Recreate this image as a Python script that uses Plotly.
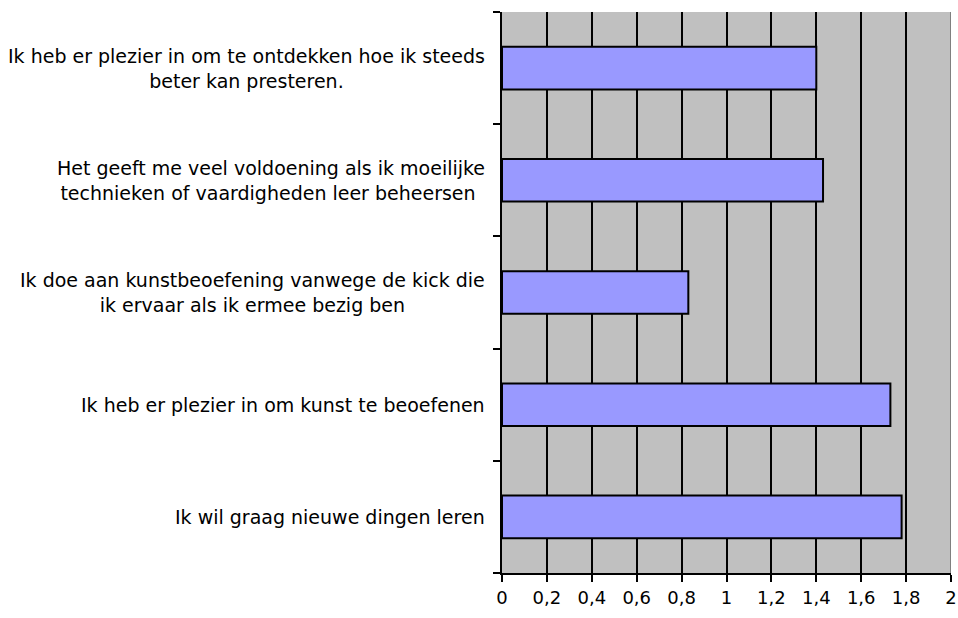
import plotly.graph_objects as go

# statements, top to bottom as in the chart
categories = [
    "Ik heb er plezier in om te ontdekken hoe ik steeds<br>beter kan presteren.",
    "Het geeft me veel voldoening als ik moeilijke<br>technieken of vaardigheden leer beheersen ",
    "Ik doe aan kunstbeoefening vanwege de kick die<br>ik ervaar als ik ermee bezig ben",
    "Ik heb er plezier in om kunst te beoefenen",
    "Ik wil graag nieuwe dingen leren",
]
values = [1.40, 1.43, 0.83, 1.73, 1.78]

tick_vals = [0, 0.2, 0.4, 0.6, 0.8, 1.0, 1.2, 1.4, 1.6, 1.8, 2.0]
tick_text = ["0", "0,2", "0,4", "0,6", "0,8", "1", "1,2", "1,4", "1,6", "1,8", "2"]

FONT = "Tahoma, DejaVu Sans, sans-serif"

fig = go.Figure(go.Bar(
    x=values,
    y=categories,
    orientation="h",
    width=0.38,
    marker=dict(color="#9999FF", line=dict(color="black", width=2)),
))

# category labels as centred multi-line text, right-aligned to the axis
for cat in categories:
    fig.add_annotation(
        x=0, xref="paper", y=cat, yref="y",
        text=cat, showarrow=False,
        xanchor="right", align="center", xshift=-15,
        font=dict(family=FONT, size=19, color="black"),
    )

# grey right border of the plot area
fig.add_shape(type="line", xref="x", yref="paper", x0=2, x1=2, y0=0, y1=1,
              line=dict(color="#808080", width=2))

fig.update_layout(
    width=958, height=618,
    margin=dict(l=502, r=7, t=12, b=45),
    paper_bgcolor="white",
    plot_bgcolor="#C0C0C0",
    showlegend=False,
    font=dict(family=FONT, size=18, color="black"),
    xaxis=dict(
        range=[0, 2], tickvals=tick_vals, ticktext=tick_text,
        showgrid=True, gridcolor="black", gridwidth=2,
        showline=True, linecolor="black", linewidth=2,
        ticks="outside", ticklen=7, tickwidth=2, tickcolor="black",
        zeroline=False, fixedrange=True, automargin=False,
    ),
    yaxis=dict(
        type="category", categoryorder="array", categoryarray=categories[::-1],
        showticklabels=False, showgrid=False,
        showline=True, linecolor="black", linewidth=2,
        ticks="outside", tickson="boundaries", ticklen=7, tickwidth=2,
        tickcolor="black", fixedrange=True, automargin=False,
    ),
)

# page body has a default 8px margin; drop it so the figure sits at the corner
fig.write_html(
    "out.html",
    config={"displayModeBar": False},
    post_script="document.body.style.margin='0';",
)
